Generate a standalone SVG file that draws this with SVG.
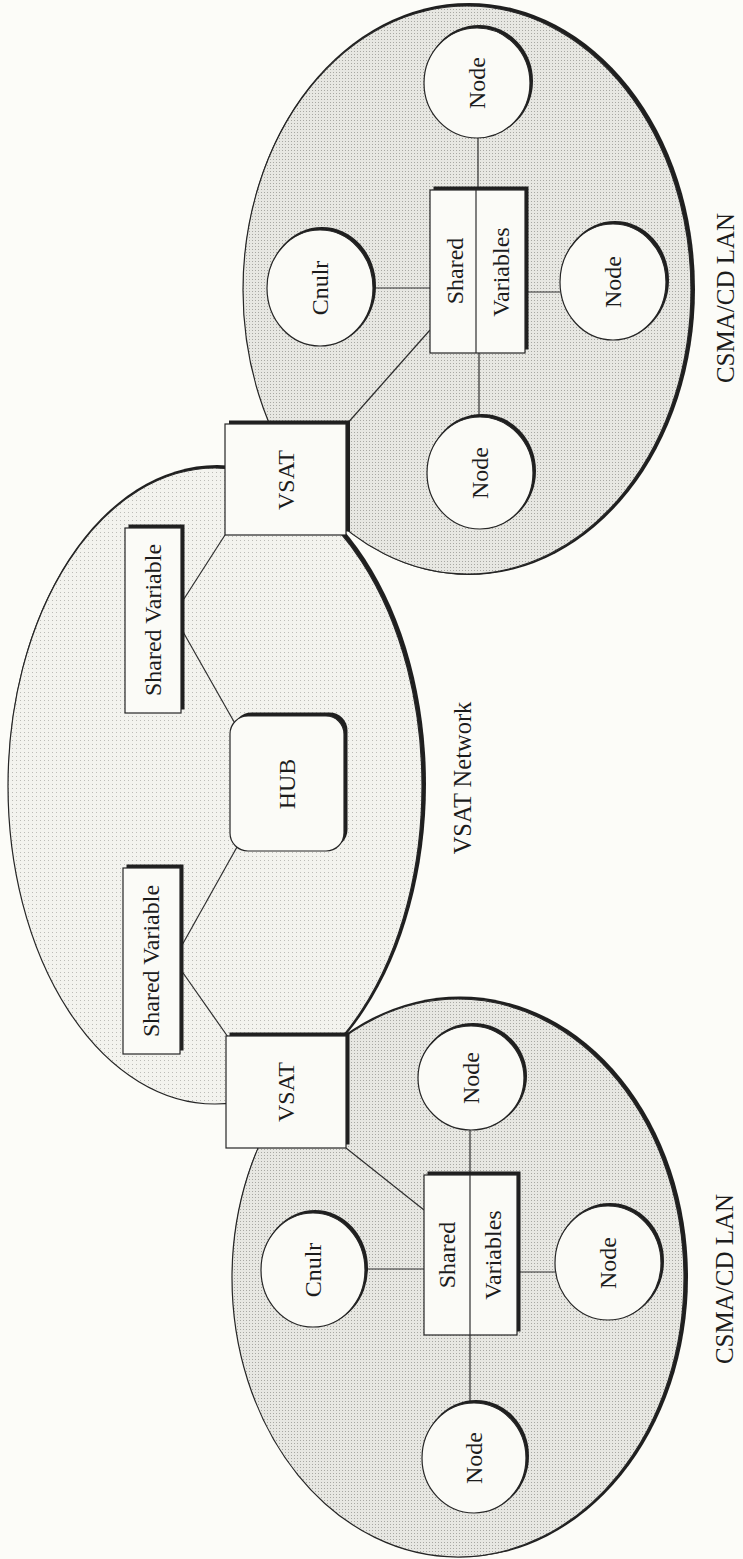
<svg xmlns="http://www.w3.org/2000/svg" width="743" height="1559" viewBox="0 0 743 1559">
  <defs>
    <!-- halftone fills -->
    <pattern id="dotsLan" width="3" height="3" patternUnits="userSpaceOnUse">
      <rect width="3" height="3" fill="#e7e7e2"/>
      <rect width="1" height="1" fill="#a8a8a3"/>
    </pattern>
    <pattern id="dotsNet" width="4" height="4" patternUnits="userSpaceOnUse">
      <rect width="4" height="4" fill="#f3f3ee"/>
      <rect width="1" height="1" fill="#bcbcb7"/>
    </pattern>
    <style>
      .sh { fill: #1f1f1f; }
      .box { fill: #fbfbf7; stroke: #262626; stroke-width: 1.2; }
      .lan { fill: url(#dotsLan); stroke: #262626; stroke-width: 1.2; }
      .net { fill: url(#dotsNet); stroke: #262626; stroke-width: 1.2; }
      .ln { fill: none; stroke: #2e2e2e; stroke-width: 1.2; }
      .t { font-family: "Liberation Serif", "Times New Roman", serif; font-size: 24px; fill: #1c1c1c; text-anchor: middle; }
    </style>
  </defs>

  <rect width="743" height="1559" fill="#fcfcf8"/>

  <!-- network regions -->
  <g id="vsat-network-region">
    <ellipse class="sh" cx="217" cy="784" rx="209" ry="319"/>
    <ellipse class="net" cx="215" cy="786" rx="207" ry="318"/>
  </g>
  <g id="lan-top-region">
    <ellipse class="sh" cx="469" cy="289" rx="226" ry="286"/>
    <ellipse class="lan" cx="467" cy="290" rx="224" ry="284"/>
  </g>
  <g id="lan-bottom-region">
    <ellipse class="sh" cx="460" cy="1277" rx="228" ry="280.5"/>
    <ellipse class="lan" cx="458" cy="1278" rx="226" ry="279"/>
  </g>

  <!-- connectors -->
  <g id="connectors" class="ln">
    <line x1="225" y1="535" x2="182" y2="602"/>
    <line x1="182" y1="630" x2="237" y2="727"/>
    <line x1="237" y1="847" x2="181" y2="947"/>
    <line x1="181" y1="970" x2="228" y2="1037"/>

    <line x1="478" y1="138" x2="478" y2="190"/>
    <line x1="373" y1="288" x2="430" y2="288"/>
    <line x1="525" y1="292" x2="560" y2="292"/>
    <line x1="479" y1="353" x2="479" y2="417"/>
    <line x1="346" y1="425" x2="430" y2="330"/>

    <line x1="470" y1="1128" x2="470" y2="1175"/>
    <line x1="365" y1="1269" x2="424" y2="1269"/>
    <line x1="517" y1="1272" x2="555" y2="1272"/>
    <line x1="470" y1="1335" x2="470" y2="1403"/>
    <line x1="346" y1="1148" x2="424" y2="1210"/>
  </g>

  <!-- VSAT network -->
  <g id="vsat-top">
    <rect class="sh" x="229" y="420.5" width="121" height="111"/>
    <rect class="box" x="225" y="424" width="121" height="111"/>
    <text class="t" transform="translate(286,480) rotate(-90)" dy="0.35em">VSAT</text>
  </g>
  <g id="shared-variable-top">
    <rect class="sh" x="128.5" y="524.5" width="56" height="185"/>
    <rect class="box" x="125" y="528" width="56" height="185"/>
    <text class="t" transform="translate(153,620) rotate(-90)" dy="0.35em">Shared Variable</text>
  </g>
  <g id="hub">
    <rect class="sh" x="233.5" y="712.5" width="114" height="135" rx="18"/>
    <rect class="box" x="230" y="716" width="114" height="135" rx="18"/>
    <text class="t" transform="translate(287,784) rotate(-90)" dy="0.35em">HUB</text>
  </g>
  <g id="shared-variable-bottom">
    <rect class="sh" x="126.5" y="864.5" width="57" height="186"/>
    <rect class="box" x="123" y="868" width="57" height="186"/>
    <text class="t" transform="translate(151,961) rotate(-90)" dy="0.35em">Shared Variable</text>
  </g>
  <g id="vsat-bottom">
    <rect class="sh" x="229.5" y="1032.5" width="120" height="112"/>
    <rect class="box" x="226" y="1036" width="120" height="112"/>
    <text class="t" transform="translate(286,1092) rotate(-90)" dy="0.35em">VSAT</text>
  </g>

  <!-- upper LAN -->
  <g id="lan-top-node-1">
    <ellipse class="sh" cx="479" cy="81" rx="54" ry="56"/>
    <ellipse class="box" cx="477" cy="83" rx="53" ry="55"/>
    <text class="t" transform="translate(477,83) rotate(-90)" dy="0.35em">Node</text>
  </g>
  <g id="lan-top-cntrlr">
    <ellipse class="sh" cx="322" cy="286" rx="54" ry="59"/>
    <ellipse class="box" cx="320" cy="288" rx="53" ry="58"/>
    <text class="t" transform="translate(320,288) rotate(-90)" dy="0.35em">Cnulr</text>
  </g>
  <g id="lan-top-shared">
    <rect class="sh" x="433.5" y="186.5" width="95" height="163"/>
    <rect class="box" x="430" y="190" width="95" height="163"/>
    <line class="ln" x1="476" y1="190" x2="476" y2="353"/>
    <text class="t" transform="translate(455,271) rotate(-90)" dy="0.35em">Shared</text>
    <text class="t" transform="translate(501,272) rotate(-90)" dy="0.35em">Variables</text>
  </g>
  <g id="lan-top-node-2">
    <ellipse class="sh" cx="615" cy="280" rx="54" ry="59"/>
    <ellipse class="box" cx="613" cy="282" rx="53" ry="58"/>
    <text class="t" transform="translate(613,282) rotate(-90)" dy="0.35em">Node</text>
  </g>
  <g id="lan-top-node-3">
    <ellipse class="sh" cx="482" cy="471" rx="54" ry="57"/>
    <ellipse class="box" cx="480" cy="473" rx="53" ry="56"/>
    <text class="t" transform="translate(480,473) rotate(-90)" dy="0.35em">Node</text>
  </g>

  <!-- lower LAN -->
  <g id="lan-bottom-node-1">
    <ellipse class="sh" cx="473" cy="1076" rx="54" ry="53"/>
    <ellipse class="box" cx="471" cy="1078" rx="53" ry="52"/>
    <text class="t" transform="translate(471,1078) rotate(-90)" dy="0.35em">Node</text>
  </g>
  <g id="lan-bottom-cntrlr">
    <ellipse class="sh" cx="315" cy="1268" rx="53" ry="58"/>
    <ellipse class="box" cx="313" cy="1270" rx="52" ry="57"/>
    <text class="t" transform="translate(313,1270) rotate(-90)" dy="0.35em">Cnulr</text>
  </g>
  <g id="lan-bottom-shared">
    <rect class="sh" x="427.5" y="1171.5" width="93" height="160"/>
    <rect class="box" x="424" y="1175" width="93" height="160"/>
    <line class="ln" x1="470" y1="1175" x2="470" y2="1335"/>
    <text class="t" transform="translate(447,1255) rotate(-90)" dy="0.35em">Shared</text>
    <text class="t" transform="translate(493,1255) rotate(-90)" dy="0.35em">Variables</text>
  </g>
  <g id="lan-bottom-node-2">
    <ellipse class="sh" cx="610" cy="1261" rx="54" ry="58"/>
    <ellipse class="box" cx="608" cy="1263" rx="53" ry="57"/>
    <text class="t" transform="translate(608,1263) rotate(-90)" dy="0.35em">Node</text>
  </g>
  <g id="lan-bottom-node-3">
    <ellipse class="sh" cx="476" cy="1456" rx="53" ry="56"/>
    <ellipse class="box" cx="474" cy="1458" rx="52" ry="55"/>
    <text class="t" transform="translate(474,1458) rotate(-90)" dy="0.35em">Node</text>
  </g>

  <!-- region captions -->
  <g id="captions">
    <text class="t" transform="translate(725,298) rotate(-90)" dy="0.35em" style="font-size:25px">CSMA/CD LAN</text>
    <text class="t" transform="translate(462,778) rotate(-90)" dy="0.35em" style="font-size:24.5px">VSAT Network</text>
    <text class="t" transform="translate(724,1279) rotate(-90)" dy="0.35em" style="font-size:25px">CSMA/CD LAN</text>
  </g>
</svg>
